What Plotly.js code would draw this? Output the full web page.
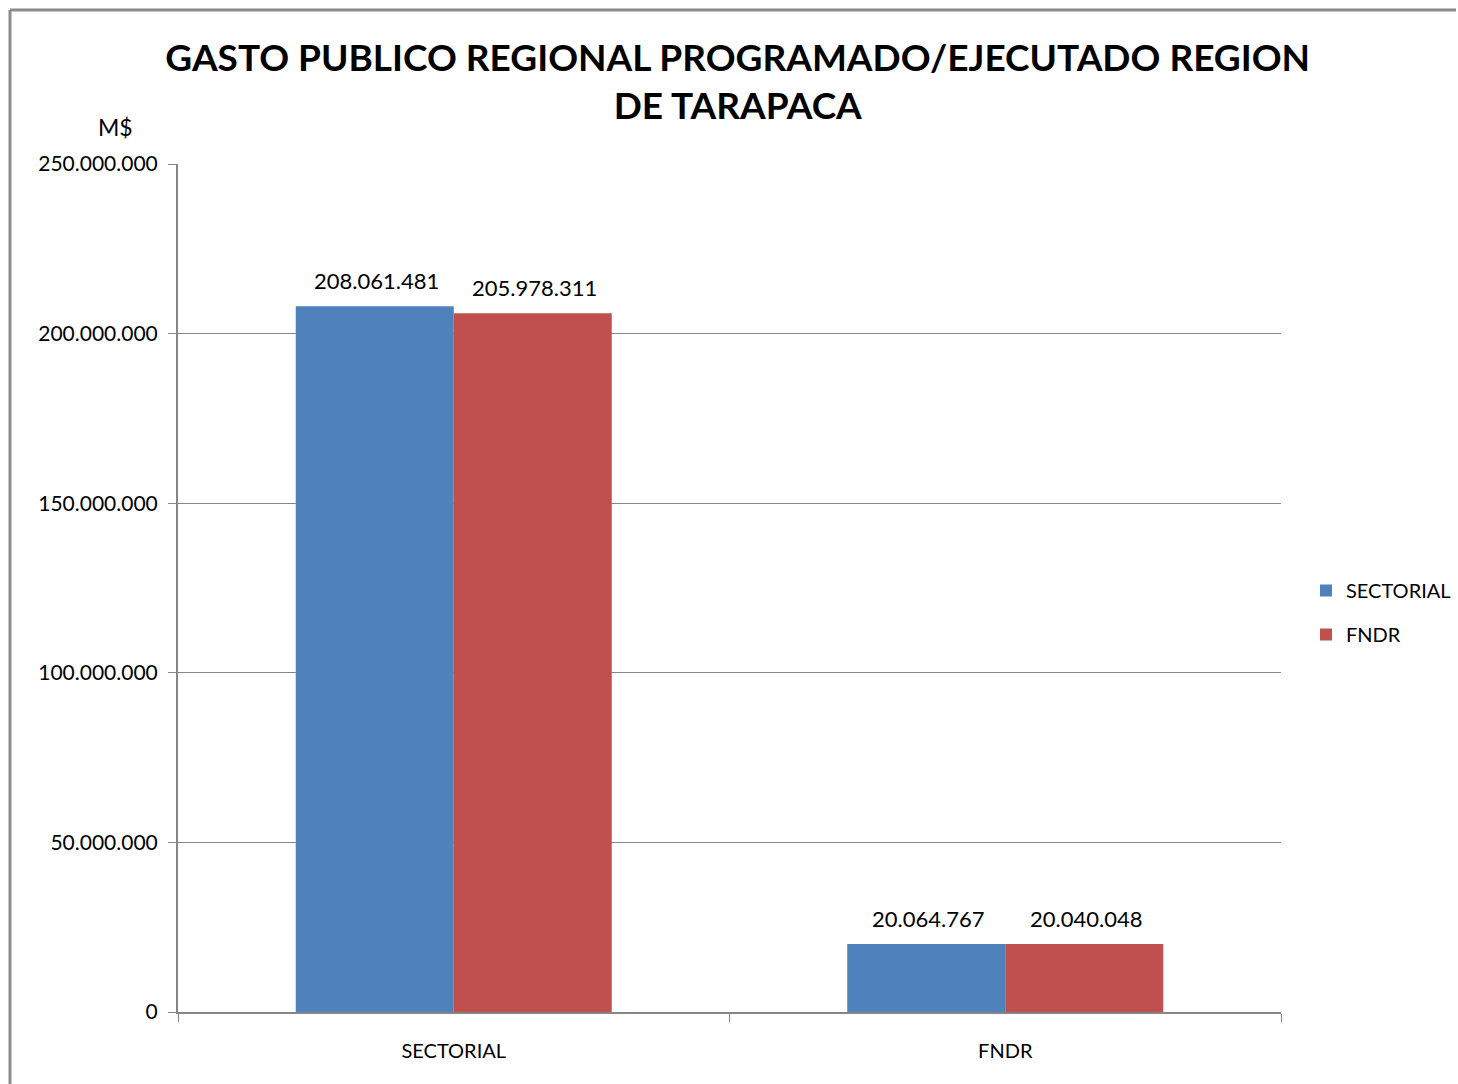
<!DOCTYPE html>
<html>
<head>
<meta charset="utf-8">
<script src="https://cdn.plot.ly/plotly-3.0.1.min.js"></script>
<style>html,body{margin:0;padding:0;background:#fff;}#chart{width:1458px;height:1084px;}</style>
</head>
<body>
<div id="chart"></div>
<script>
const categories = ["SECTORIAL", "FNDR"];
const seriesNames = ["SECTORIAL", "FNDR"];
const sectorialValues = [208061481, 20064767];
const fndrValues = [205978311, 20040048];
const yTickValues = [0, 50000000, 100000000, 150000000, 200000000, 250000000];

const W = 1458, H = 1084;
const L = 178, R = 177, T = 164, B = 72;
const pw = W - L - R, ph = H - T - B;
const px = x => (x - L) / pw;
const py = y => (H - B - y) / ph;

const font = "Lato, 'Open Sans', sans-serif";
const colors = ["#4F81BD", "#C0504D"];
const seriesValues = [sectorialValues, fndrValues];
const bargap = 0.427;
const barPx = pw / categories.length * (1 - bargap) / seriesValues.length;

const traces = seriesValues.map((vals, i) => ({
  type: "bar", name: seriesNames[i], x: categories, y: vals,
  legendgroup: "g" + i,
  marker: {color: colors[i]}, hoverinfo: "none"
}));

const fmt = v => String(v).replace(/\B(?=(\d{3})+(?!\d))/g, ".");
const labelAnnotations = [];
seriesValues.forEach((vals, i) => {
  vals.forEach((v, j) => {
    labelAnnotations.push({
      xref: "x", yref: "y", x: categories[j], y: v, text: fmt(v),
      showarrow: false, xanchor: "center", yanchor: "bottom",
      xshift: (i - 0.5) * barPx + 2, yshift: 10,
      font: {family: font, size: 22, color: "#000"}
    });
  });
});

const layout = {
  width: W, height: H,
  margin: {l: L, r: R, t: T, b: B, pad: 0, autoexpand: false},
  paper_bgcolor: "#fff", plot_bgcolor: "#fff",
  separators: ",.",
  barmode: "group", bargap: bargap, bargroupgap: 0,
  font: {family: font, size: 18, color: "#000"},
  title: {text: "GASTO PUBLICO REGIONAL PROGRAMADO/EJECUTADO REGION<br>DE TARAPACA",
          font: {family: font, size: 37, color: "#000", weight: "bold"},
          x: 0.506, xanchor: "center", y: 1 - 71/H, yanchor: "middle"},
  xaxis: {type: "category", showgrid: false, showline: true, linecolor: "#868686", linewidth: 2,
          ticks: "outside", tickson: "boundaries", ticklen: 8, tickcolor: "#868686",
          tickfont: {family: font, size: 20, color: "#000"}, zeroline: false, ticklabelstandoff: 20},
  yaxis: {range: [0, 250000000], tickvals: yTickValues, tickformat: ",d",
          showgrid: true, gridcolor: "#868686", gridwidth: 1,
          showline: true, linecolor: "#868686", linewidth: 2,
          ticks: "outside", ticklen: 8, tickcolor: "#868686",
          tickfont: {family: font, size: 21, color: "#000"}, zeroline: false, ticklabelstandoff: 6},
  legend: {x: px(1306), y: py(571), xanchor: "left", yanchor: "top",
           font: {family: font, size: 20, color: "#000"}, tracegroupgap: 15, itemwidth: 30,
           traceorder: "grouped"},
  annotations: [
    {text: "M$", xref: "paper", yref: "paper", x: px(115), y: py(127), showarrow: false,
     xanchor: "center", yanchor: "middle", font: {family: font, size: 23, color: "#000"}}
  ].concat(labelAnnotations),
  shapes: [
    {type: "line", xref: "paper", yref: "paper", x0: px(10), x1: px(10), y0: py(10), y1: py(1084),
     line: {color: "#8c8c8c", width: 3}},
    {type: "line", xref: "paper", yref: "paper", x0: px(10), x1: px(1456), y0: py(10), y1: py(10),
     line: {color: "#8c8c8c", width: 3}}
  ]
};

Plotly.newPlot("chart", traces, layout, {displayModeBar: false, staticPlot: true});
</script>
</body>
</html>
